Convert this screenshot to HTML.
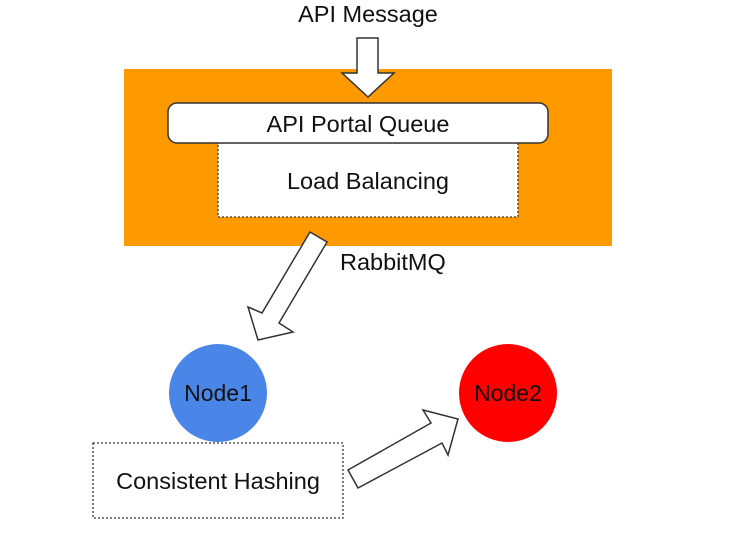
<!DOCTYPE html>
<html><head><style>
body{margin:0;background:#fff;}
svg text{font-family:"Liberation Sans",Arial,sans-serif;fill:#111;}
</style></head><body>
<svg width="742" height="532" viewBox="0 0 742 532" xmlns="http://www.w3.org/2000/svg">
<rect x="124" y="69" width="488" height="177" fill="#ff9900"/>
<rect x="218" y="143" width="300" height="74" fill="#fff" stroke="#333" stroke-width="1.3" stroke-dasharray="2,2"/>
<rect x="168" y="103" width="380" height="40" rx="9" fill="#fff" stroke="#333" stroke-width="1.5"/>
<polygon points="357,38 378,38 378,73 394,73 368,97 342,73 357,73" fill="#fff" stroke="#333" stroke-width="1.5"/>
<polygon points="310,232 327,242 279,323 293,332 258,340 248,307 262,313" fill="#fff" stroke="#333" stroke-width="1.5"/>
<circle cx="218" cy="393" r="49" fill="#4a86e8"/>
<circle cx="508" cy="393" r="49" fill="#ff0000"/>
<rect x="93" y="443" width="250" height="75" fill="#fff" stroke="#333" stroke-width="1.3" stroke-dasharray="2,2"/>
<polygon points="348,470 431,423 423,410 458,419 448,455 442,443 358,488" fill="#fff" stroke="#333" stroke-width="1.5"/>
<text x="368" y="22" font-size="23.5" text-anchor="middle">API Message</text>
<text x="358" y="132" font-size="23.5" text-anchor="middle">API Portal Queue</text>
<text x="368" y="189" font-size="23.5" text-anchor="middle">Load Balancing</text>
<text x="340" y="270" font-size="23.5">RabbitMQ</text>
<text x="218" y="401" font-size="23" text-anchor="middle">Node1</text>
<text x="508" y="401" font-size="23" text-anchor="middle">Node2</text>
<text x="218" y="489" font-size="23.5" text-anchor="middle">Consistent Hashing</text>
</svg>
</body></html>
